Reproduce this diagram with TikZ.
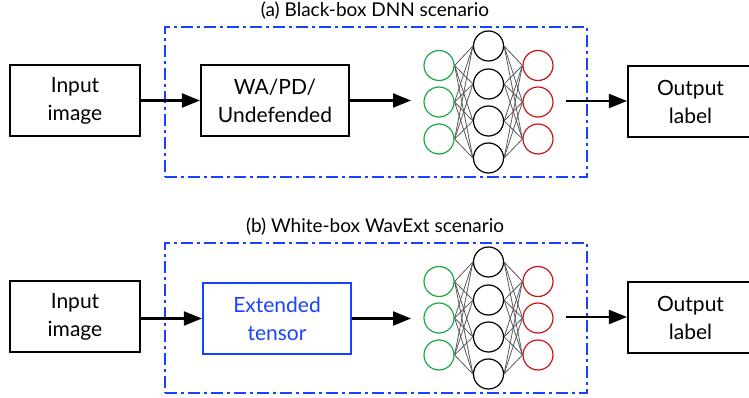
\documentclass[tikz,border=0pt]{standalone}
\usepackage{fontspec}
\setmainfont{Lato}
\usetikzlibrary{arrows.meta}
\definecolor{dblue}{RGB}{25,65,255}
\definecolor{ngreen}{RGB}{20,170,70}
\definecolor{nred}{RGB}{200,20,20}
\begin{document}
\begin{tikzpicture}[x=1pt,y=-1pt,
  box/.style={draw,line width=2.1pt,minimum height=71pt,align=center,inner sep=0pt,
    font=\fontsize{21}{28}\selectfont},
  frame/.style={draw=dblue,line width=2pt,dash pattern=on 12pt off 4pt on 3pt off 4pt,
    minimum width=422pt,minimum height=150pt,inner sep=0pt},
  title/.style={font=\fontsize{19}{22}\selectfont,inner sep=0pt},
  neur/.style={circle,draw,line width=1.2pt,minimum size=30pt,inner sep=0pt},
  conn/.style={draw=black!65,line width=0.8pt},
  arr/.style={line width=2.1pt,-{Triangle[length=18pt,width=14pt]}}]
\useasboundingbox (0,0) rectangle (749,398);
\foreach \p/\o in {a/0,b/216}{
  \node[frame] (frame\p) at (376,102+\o) {};
  \node[box,minimum width=130pt] (in\p) at (75,100.5+\o) {Input\\image};
  \node[box,minimum width=125pt] (out\p) at (690.5,101.5+\o) {Output\\label};
  \foreach \i/\y in {1/65.5,2/102,3/139}{
    \node[neur,draw=ngreen] (g\p\i) at (439,\y+\o) {};
    \node[neur,draw=nred] (r\p\i) at (538,\y+\o) {};
  }
  \foreach \i/\y in {1/46,2/84,3/121,4/158}{
    \node[neur] (h\p\i) at (488.5,\y+\o) {};
  }
  \foreach \i in {1,2,3}{
    \foreach \j in {1,2,3,4}{
      \draw[conn] (g\p\i.east) -- (h\p\j.west);
      \draw[conn] (h\p\j.east) -- (r\p\i.west);
    }
  }
  \coordinate (nnin\p) at (411,101+\o);
  \coordinate (nnout\p) at (566,101+\o);
  \draw[arr] (nnout\p) -- (out\p.west |- nnout\p);
}
\node[title] (ta) at (375,11) {(a) Black-box DNN scenario};
\node[title] (tb) at (375,227) {(b) White-box WavExt scenario};
\node[box,minimum width=148pt] (wa) at (275,100.5) {WA/PD/\\Undefended};
\node[box,draw=dblue,text=dblue,minimum width=148pt] (ext) at (277,318.5) {Extended\\tensor};
\draw[arr] (ina.east |- wa.west) -- (wa.west);
\draw[arr] (wa.east) -- (nnina |- wa.east);
\draw[arr] (inb.east |- ext.west) -- (ext.west);
\draw[arr] (ext.east) -- (nninb |- ext.east);
\end{tikzpicture}
\end{document}
